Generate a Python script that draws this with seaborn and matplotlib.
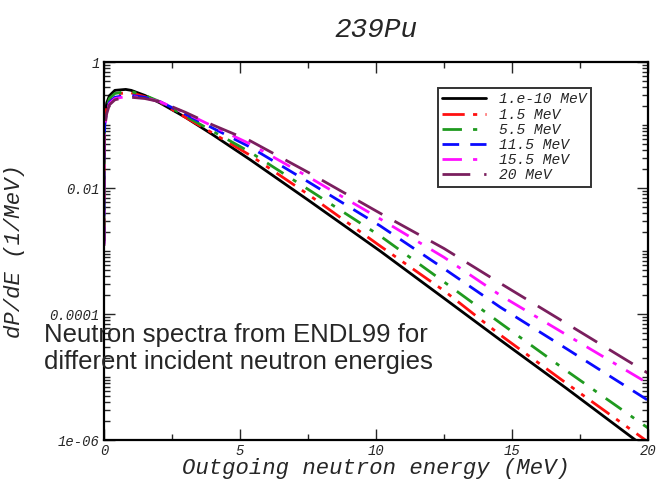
import numpy as np
import pandas as pd
import matplotlib as mpl
mpl.use("Agg")
import matplotlib.pyplot as plt
import matplotlib.ticker as mticker
import seaborn as sns

energy = [5e-6, 1e-4, 1e-3, 1e-2, 0.03, 0.1, 0.2, 0.4, 0.8, 1.0, 1.5, 2.06,
          3.0, 4.0, 5.37, 7.5, 10.15, 12.5, 14.56, 17.0, 20.0]

# log10(dP/dE) per incident energy
log_1e10 = [-2.83, -2.12, -1.62, -1.12, -0.88, -0.65, -0.535, -0.45, -0.435, -0.45, -0.53, -0.65,
            -0.88, -1.155, -1.55, -2.19, -3.00, -3.75, -4.41, -5.18, -6.15]
log_1p5 = [-2.85, -2.17, -1.67, -1.18, -0.94, -0.72, -0.60, -0.51, -0.49, -0.49, -0.55, -0.64,
           -0.88, -1.13, -1.48, -2.10, -2.92, -3.63, -4.33, -5.10, -6.03]
log_5p5 = [-2.84, -2.16, -1.66, -1.17, -0.93, -0.72, -0.58, -0.50, -0.47, -0.47, -0.53, -0.63,
           -0.86, -1.10, -1.43, -2.02, -2.76, -3.49, -4.14, -4.90, -5.81]
log_11p5 = [-2.88, -2.22, -1.72, -1.23, -0.99, -0.78, -0.64, -0.56, -0.53, -0.53, -0.56, -0.63,
            -0.83, -1.05, -1.35, -1.90, -2.60, -3.28, -3.89, -4.55, -5.37]
log_15p5 = [-2.90, -2.24, -1.74, -1.25, -1.01, -0.80, -0.66, -0.58, -0.55, -0.55, -0.57, -0.63,
            -0.81, -1.02, -1.30, -1.82, -2.49, -3.10, -3.70, -4.33, -5.10]
log_20 = [-2.92, -2.26, -1.76, -1.27, -1.03, -0.82, -0.68, -0.60, -0.56, -0.56, -0.58, -0.63,
          -0.80, -1.00, -1.25, -1.75, -2.40, -2.96, -3.51, -4.15, -4.94]

labels = ["1.e-10 MeV", "1.5 MeV", "5.5 MeV", "11.5 MeV", "15.5 MeV", "20 MeV"]
colors = ["black", "#ff1010", "#1f9a1f", "#0a0aff", "#ff10ff", "#7a1f5e"]
dash_styles = ["", (8, 3, 1.5, 3, 1.5, 3), (7, 4, 1.5, 4), (6, 4), (7, 4, 1.5, 4), (10, 5)]

xticks = [0, 5, 10, 15, 20]
yticks = [1e-6, 1e-4, 1e-2, 1]
ytick_labels = ["1e-06", "0.0001", "0.01", "1"]

note_lines = ["Neutron spectra from ENDL99 for", "different incident neutron energies"]

all_logs = [log_1e10, log_1p5, log_5p5, log_11p5, log_15p5, log_20]
frames = []
for lab, lg in zip(labels, all_logs):
    frames.append(pd.DataFrame({"E": energy, "dPdE": 10 ** np.array(lg), "incident": lab}))
df = pd.concat(frames, ignore_index=True)

sns.set_style("ticks")
mono = "Liberation Mono"

fig = plt.figure(figsize=(6.6, 4.84), dpi=100)
ax = fig.add_axes([104 / 660, 44 / 484, 544 / 660, 378 / 484])

sns.lineplot(data=df, x="E", y="dPdE", hue="incident", style="incident",
             hue_order=labels, style_order=labels,
             palette=dict(zip(labels, colors)), dashes=dict(zip(labels, dash_styles)),
             sort=False, estimator=None, linewidth=2.0, ax=ax)

ax.set_yscale("log")
ax.set_xlim(0, 20)
ax.set_ylim(1e-6, 1)

ax.xaxis.set_major_locator(mticker.FixedLocator(xticks))
ax.xaxis.set_minor_locator(mticker.MultipleLocator(2.5))
ax.yaxis.set_major_locator(mticker.FixedLocator(yticks))
ax.yaxis.set_major_formatter(mticker.FixedFormatter(ytick_labels))
ax.yaxis.set_minor_locator(mticker.LogLocator(base=10, subs=np.arange(1, 10), numticks=20))
ax.yaxis.set_minor_formatter(mticker.NullFormatter())
ax.tick_params(which="both", direction="in", top=True, right=True, width=1)
ax.tick_params(which="major", length=8, pad=3)
ax.tick_params(which="minor", length=4)
for t in ax.get_xticklabels() + ax.get_yticklabels():
    t.set_fontfamily(mono)
    t.set_fontstyle("italic")
    t.set_fontsize(10)

for sp in ax.spines.values():
    sp.set_linewidth(1.6)
    sp.set_color("black")

ax.set_xlabel("Outgoing neutron energy (MeV)", fontfamily=mono, fontstyle="italic",
              fontsize=16, labelpad=0)
ax.set_ylabel("dP/dE (1/MeV)", fontfamily=mono, fontstyle="italic", fontsize=16, labelpad=18)
ax.set_title("239Pu", fontfamily=mono, fontstyle="italic", fontsize=20, pad=18)

leg = ax.legend(loc="upper right", bbox_to_anchor=(0.895, 0.931), frameon=True, fancybox=False,
                prop={"family": mono, "style": "italic", "size": 10.5},
                handlelength=3.0, handletextpad=0.9, labelspacing=0.08,
                borderpad=0.3, borderaxespad=0)
leg.get_frame().set_edgecolor("black")
leg.get_frame().set_linewidth(1.4)
leg.set_title(None)

# the note sits over the axis, as in the original slide
fig.text(44 / 660, 1 - 342 / 484, note_lines[0], fontfamily="Liberation Sans", fontsize=18.5,
         va="baseline", ha="left")
fig.text(44 / 660, 1 - 369 / 484, note_lines[1], fontfamily="Liberation Sans", fontsize=18.5,
         va="baseline", ha="left")

fig.savefig("out.png", dpi=100, facecolor="white")
